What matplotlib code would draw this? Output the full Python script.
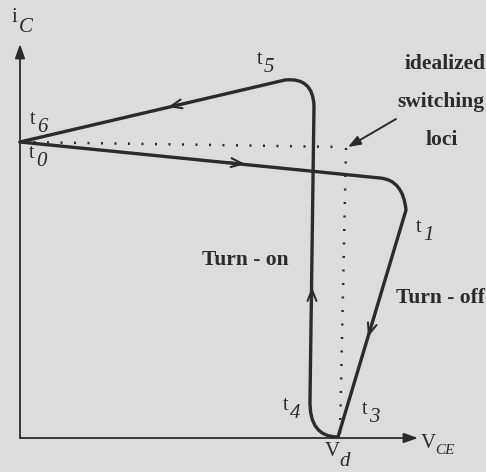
import matplotlib
matplotlib.use("Agg")
import matplotlib.pyplot as plt
from matplotlib.path import Path
from matplotlib.patches import PathPatch

# schematic drawn in a pixel-like frame (x right, y down)
W, H = 486, 472
BG = "#dcdcdc"
INK = "#2b2b2b"

# axes of the i_C / V_CE plane
origin = (20, 438)
y_tip = (20, 44)
x_tip = (418, 438)

# turn-off trajectory  t0 -> t1 -> t3 (Vd)
off_xy = [(20, 142), (380, 178), (403, 180), (406, 210), (338, 437)]
off_codes = [Path.MOVETO, Path.LINETO, Path.CURVE3, Path.CURVE3, Path.LINETO]

# turn-on trajectory  Vd -> t4 -> t5 -> t6 (drawn from t6 end)
on_xy = [(20, 142), (285, 80), (313, 77), (314, 106), (310, 400),
         (309, 437), (338, 437)]
on_codes = [Path.MOVETO, Path.LINETO, Path.CURVE3, Path.CURVE3, Path.LINETO,
            Path.CURVE3, Path.CURVE3]

# idealized switching loci (dotted)
ideal_x = [20, 343, 346, 340]
ideal_y = [142, 147, 148, 434]

# direction markers: (tip, tail)
flow_arrows = [((168, 107), (190, 102)),
               ((245, 164), (225, 162)),
               ((312, 287), (312, 305)),
               ((368, 337), (375, 315))]

# time labels: (main, sub, x, y)
t_labels = [("t", "6", 30, 120), ("t", "0", 29, 153), ("t", "5", 257, 59),
            ("t", "1", 416, 227), ("t", "4", 283, 405), ("t", "3", 362, 410)]

notes = [("idealized", 445, 64), ("switching", 441, 102), ("loci", 442, 140),
         ("Turn - on", 245, 260), ("Turn - off", 440, 298)]

fig = plt.figure(figsize=(W / 100, H / 100), dpi=100, facecolor=BG)
ax = fig.add_axes([0, 0, 1, 1])
ax.set_facecolor(BG)
ax.set_xlim(0, W)
ax.set_ylim(H, 0)
ax.axis("off")

# axes with filled heads
for tip in (y_tip, x_tip):
    ax.annotate("", xy=tip, xytext=origin,
                arrowprops=dict(arrowstyle="-|>,head_length=0.85,head_width=0.3",
                                lw=1.3, color=INK, shrinkA=0, shrinkB=0))

for sl in (slice(0, 2), slice(2, 4)):
    ax.plot(ideal_x[sl], ideal_y[sl], color=INK, lw=1.8, ls=(0, (0.8, 4.6)),
            dash_capstyle="butt")

for xy, codes in ((off_xy, off_codes), (on_xy, on_codes)):
    ax.add_patch(PathPatch(Path(xy, codes), fill=False, lw=2.4, ec=INK,
                           capstyle="round", joinstyle="round"))

for tip, tail in flow_arrows:
    ax.annotate("", xy=tip, xytext=tail,
                arrowprops=dict(arrowstyle="->,head_length=0.8,head_width=0.32",
                                lw=1.5, color=INK, shrinkA=0, shrinkB=0))

# pointer to the idealized loci
ax.annotate("", xy=(348, 147), xytext=(396, 119),
            arrowprops=dict(arrowstyle="-|>,head_length=0.75,head_width=0.28",
                            lw=1.4, color=INK, shrinkA=0, shrinkB=0))

serif = "Liberation Serif"
for main, sub, x, y in t_labels:
    ax.text(x, y, main, fontsize=14.5, family=serif, color=INK,
            ha="left", va="center")
    ax.text(x + 7, y + 8, sub, fontsize=15, family=serif, style="italic",
            color=INK, ha="left", va="center")

# axis names
ax.text(12, 17, "i", fontsize=15, family=serif, color=INK, ha="left", va="center")
ax.text(19, 27, "C", fontsize=15, family=serif, style="italic", color=INK,
        ha="left", va="center")
ax.text(421, 443, "V", fontsize=15, family=serif, color=INK, ha="left", va="center")
ax.text(435, 451, "CE", fontsize=11, family=serif, style="italic", color=INK,
        ha="left", va="center")
ax.text(325, 452, "V", fontsize=15, family=serif, color=INK, ha="left", va="center")
ax.text(339, 461, "d", fontsize=15, family=serif, style="italic", color=INK,
        ha="left", va="center")

for s, x, y in notes:
    ax.text(x, y, s, fontsize=15.5, family=serif, weight="bold", color=INK,
            ha="center", va="center")

fig.savefig("out.png", dpi=100, facecolor=BG)
